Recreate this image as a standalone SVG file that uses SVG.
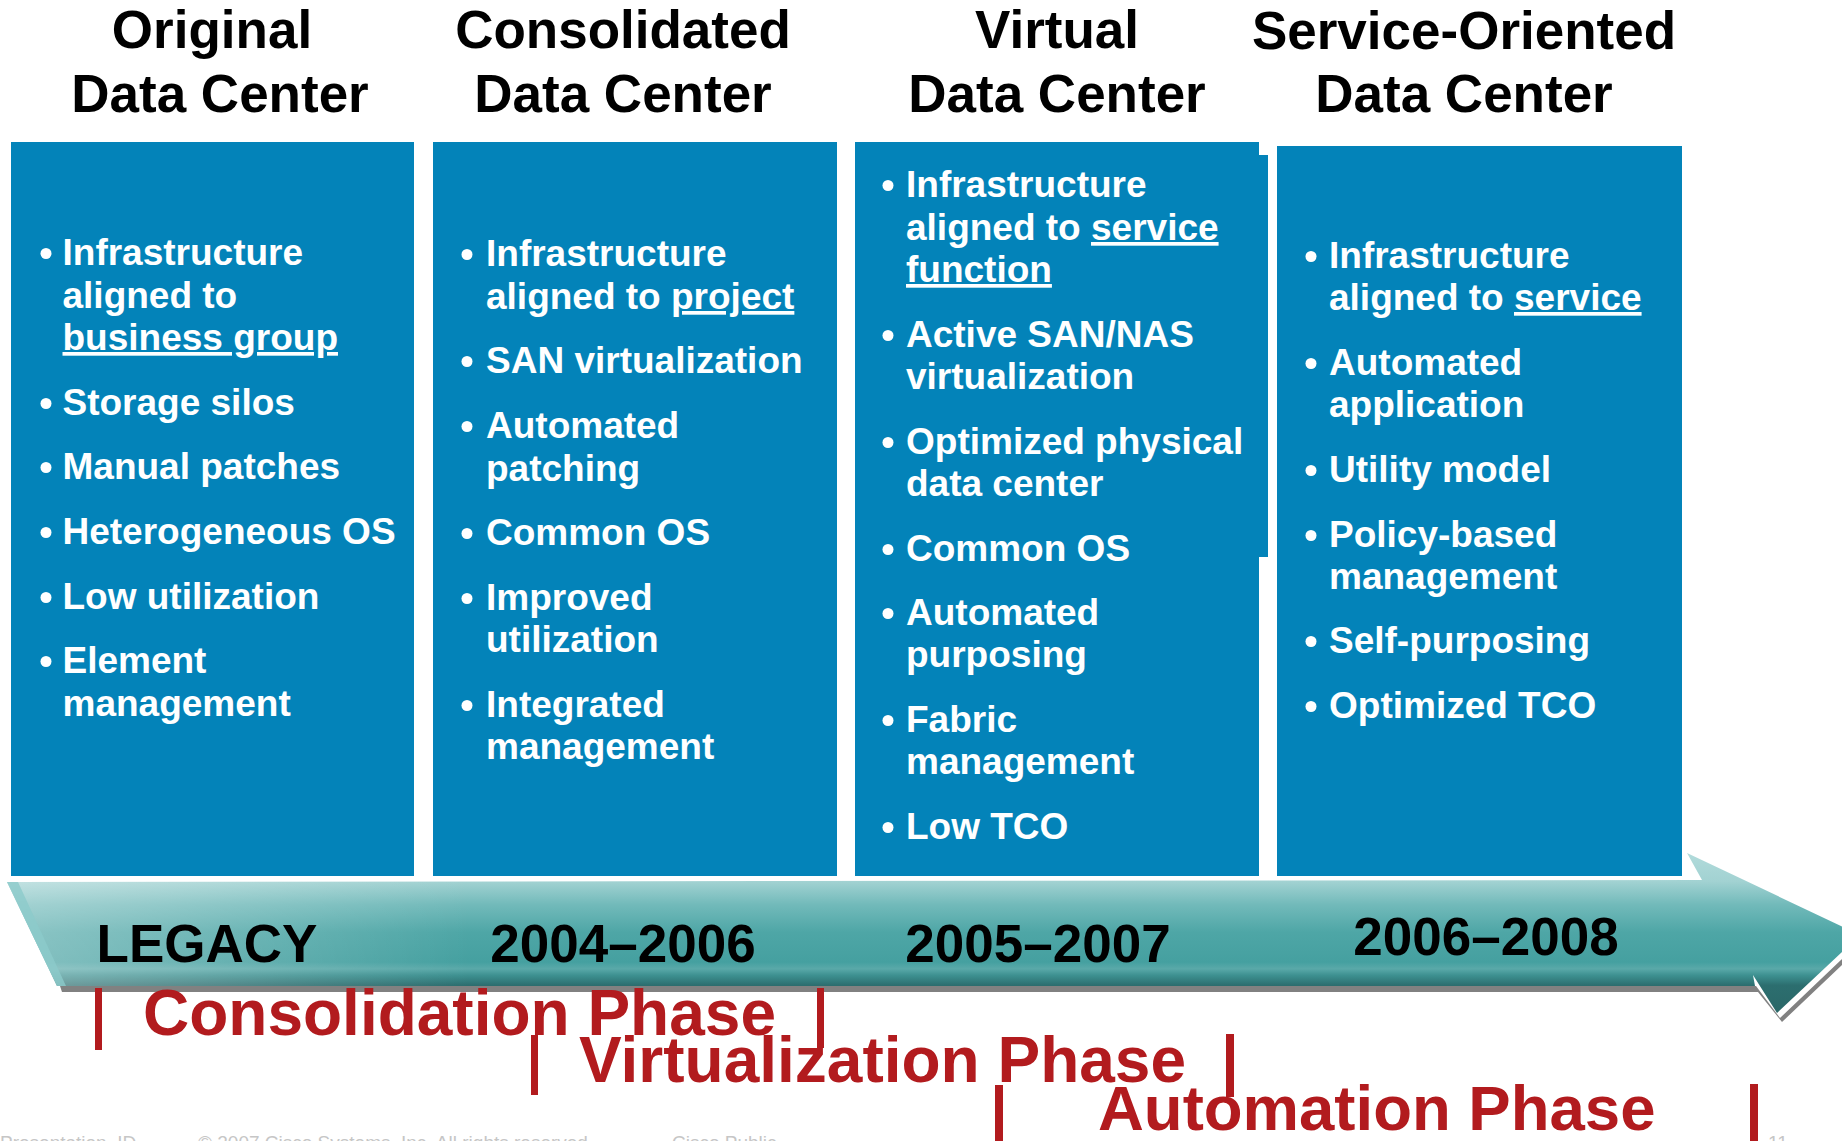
<svg xmlns="http://www.w3.org/2000/svg" width="1842" height="1141" viewBox="0 0 1842 1141">
<defs>
<style>
.h{font-family:"Liberation Sans",Arial,sans-serif;font-weight:bold;font-size:53px;fill:#000;text-anchor:middle}
.b{font-family:"Liberation Sans",Arial,sans-serif;font-weight:bold;font-size:37px;fill:#fff}
.u{text-decoration:underline}
.y{font-family:"Liberation Sans",Arial,sans-serif;font-weight:bold;font-size:53px;fill:#000;text-anchor:middle}
.p{font-family:"Liberation Sans",Arial,sans-serif;font-weight:bold;font-size:64px;fill:#b21b1e}
.f{font-family:"Liberation Sans",Arial,sans-serif;font-size:19px;fill:#c6c6c6}
.col{fill:#0383b9}
.dot{fill:#fff}
.bar{fill:#b21b1e}
</style>
<linearGradient id="ag" gradientUnits="userSpaceOnUse" x1="0" y1="850" x2="0" y2="1015">
<stop offset="0" stop-color="#b3dcdc"/>
<stop offset="0.19" stop-color="#a2d2d2"/>
<stop offset="0.33" stop-color="#72baba"/>
<stop offset="0.5" stop-color="#4ea6a6"/>
<stop offset="0.68" stop-color="#45a0a0"/>
<stop offset="0.72" stop-color="#5aa9a9"/>
<stop offset="0.76" stop-color="#3d9090"/>
<stop offset="0.82" stop-color="#2c6e6f"/>
<stop offset="1" stop-color="#2a6767"/>
</linearGradient>
<linearGradient id="lg" x1="0" y1="0" x2="1" y2="0">
<stop offset="0" stop-color="#ffffff" stop-opacity="0.35"/>
<stop offset="0.25" stop-color="#ffffff" stop-opacity="0"/>
</linearGradient>
</defs>
<rect width="1842" height="1141" fill="#fff"/>

<g id="col-original">
<text class="h" x="212" y="48">Original</text>
<text class="h" x="220" y="112">Data Center</text>
<rect class="col" x="11" y="142" width="403" height="734"/>
<circle class="dot" cx="46" cy="253.5" r="5.5"/>
<text class="b" x="62.5" y="265">Infrastructure</text>
<text class="b" x="62.5" y="308">aligned to</text>
<text class="b u" x="62.5" y="350">business group</text>
<circle class="dot" cx="46" cy="403.5" r="5.5"/>
<text class="b" x="62.5" y="415">Storage silos</text>
<circle class="dot" cx="46" cy="467.5" r="5.5"/>
<text class="b" x="62.5" y="479">Manual patches</text>
<circle class="dot" cx="46" cy="532.5" r="5.5"/>
<text class="b" x="62.5" y="544">Heterogeneous OS</text>
<circle class="dot" cx="46" cy="597.5" r="5.5"/>
<text class="b" x="62.5" y="609">Low utilization</text>
<circle class="dot" cx="46" cy="661.5" r="5.5"/>
<text class="b" x="62.5" y="673">Element</text>
<text class="b" x="62.5" y="716">management</text>
</g>

<g id="col-consolidated">
<text class="h" x="623" y="48">Consolidated</text>
<text class="h" x="623" y="112">Data Center</text>
<rect class="col" x="433" y="142" width="404" height="734"/>
<circle class="dot" cx="467" cy="254.5" r="5.5"/>
<text class="b" x="486" y="266">Infrastructure</text>
<text class="b" x="486" y="309">aligned to <tspan class="u">project</tspan></text>
<circle class="dot" cx="467" cy="361.5" r="5.5"/>
<text class="b" x="486" y="373">SAN virtualization</text>
<circle class="dot" cx="467" cy="426.5" r="5.5"/>
<text class="b" x="486" y="438">Automated</text>
<text class="b" x="486" y="481">patching</text>
<circle class="dot" cx="467" cy="533.5" r="5.5"/>
<text class="b" x="486" y="545">Common OS</text>
<circle class="dot" cx="467" cy="598.5" r="5.5"/>
<text class="b" x="486" y="610">Improved</text>
<text class="b" x="486" y="652">utilization</text>
<circle class="dot" cx="467" cy="705.5" r="5.5"/>
<text class="b" x="486" y="717">Integrated</text>
<text class="b" x="486" y="759">management</text>
</g>

<g id="col-virtual">
<text class="h" x="1057" y="48">Virtual</text>
<text class="h" x="1057" y="112">Data Center</text>
<rect class="col" x="855" y="142" width="404" height="734"/>
<rect class="col" x="1258" y="155" width="10" height="402"/>
<circle class="dot" cx="888" cy="185.5" r="5.5"/>
<text class="b" x="906" y="197">Infrastructure</text>
<text class="b" x="906" y="240">aligned to <tspan class="u">service</tspan></text>
<text class="b u" x="906" y="282">function</text>
<circle class="dot" cx="888" cy="335.5" r="5.5"/>
<text class="b" x="906" y="347">Active SAN/NAS</text>
<text class="b" x="906" y="389">virtualization</text>
<circle class="dot" cx="888" cy="442.5" r="5.5"/>
<text class="b" x="906" y="454">Optimized physical</text>
<text class="b" x="906" y="496">data center</text>
<circle class="dot" cx="888" cy="549.5" r="5.5"/>
<text class="b" x="906" y="561">Common OS</text>
<circle class="dot" cx="888" cy="613.5" r="5.5"/>
<text class="b" x="906" y="625">Automated</text>
<text class="b" x="906" y="667">purposing</text>
<circle class="dot" cx="888" cy="720.5" r="5.5"/>
<text class="b" x="906" y="732">Fabric</text>
<text class="b" x="906" y="774">management</text>
<circle class="dot" cx="888" cy="827.5" r="5.5"/>
<text class="b" x="906" y="839">Low TCO</text>
</g>

<g id="col-service-oriented">
<text class="h" x="1464" y="49">Service-Oriented</text>
<text class="h" x="1464" y="112">Data Center</text>
<rect class="col" x="1277" y="146" width="405" height="730"/>
<circle class="dot" cx="1311" cy="256.5" r="5.5"/>
<text class="b" x="1329" y="268">Infrastructure</text>
<text class="b" x="1329" y="310">aligned to <tspan class="u">service</tspan></text>
<circle class="dot" cx="1311" cy="363.5" r="5.5"/>
<text class="b" x="1329" y="375">Automated</text>
<text class="b" x="1329" y="417">application</text>
<circle class="dot" cx="1311" cy="470.5" r="5.5"/>
<text class="b" x="1329" y="482">Utility model</text>
<circle class="dot" cx="1311" cy="535.5" r="5.5"/>
<text class="b" x="1329" y="547">Policy-based</text>
<text class="b" x="1329" y="589">management</text>
<circle class="dot" cx="1311" cy="641.5" r="5.5"/>
<text class="b" x="1329" y="653">Self-purposing</text>
<circle class="dot" cx="1311" cy="706.5" r="5.5"/>
<text class="b" x="1329" y="718">Optimized TCO</text>
</g>

<g id="timeline">
<polygon points="60,986 1756,986 1780,1018 1860,942 1860,948 1782,1022 1758,992 62,992" fill="#6b6b6b" opacity="0.85"/>
<polygon points="7,882 1702,880 1687,853 1860,935 1777,1013 1753,975 1755,986 57,986" fill="url(#ag)"/>
<polygon points="7,882 1702,880 1687,853 1860,935 1777,1013 1753,975 1755,986 57,986" fill="url(#lg)"/>
<polygon points="7,882 18,882 66,986 57,986" fill="#8ccaca" opacity="0.8"/>
<text class="y" x="207" y="962">LEGACY</text>
<text class="y" x="623" y="962">2004–2006</text>
<text class="y" x="1038" y="962">2005–2007</text>
<text class="y" x="1486" y="955">2006–2008</text>
</g>

<g id="phases">
<rect class="bar" x="95" y="988" width="7" height="62"/>
<text class="p" x="143" y="1035">Consolidation Phase</text>
<rect class="bar" x="817" y="988" width="7" height="60"/>
<rect class="bar" x="531" y="1035" width="7" height="60"/>
<text class="p" x="579" y="1082">Virtualization Phase</text>
<rect class="bar" x="1226" y="1034" width="8" height="63"/>
<rect class="bar" x="995" y="1085" width="8" height="56"/>
<text class="p" x="1098" y="1130" style="font-size:63.5px">Automation Phase</text>
<rect class="bar" x="1750" y="1084" width="8" height="57"/>
</g>

<g id="footer">
<text class="f" x="0" y="1149">Presentation_ID</text>
<text class="f" x="198" y="1149">© 2007 Cisco Systems, Inc. All rights reserved.</text>
<text class="f" x="672" y="1149">Cisco Public</text>
<text class="f" x="1768" y="1149">11</text>
</g>
</svg>
